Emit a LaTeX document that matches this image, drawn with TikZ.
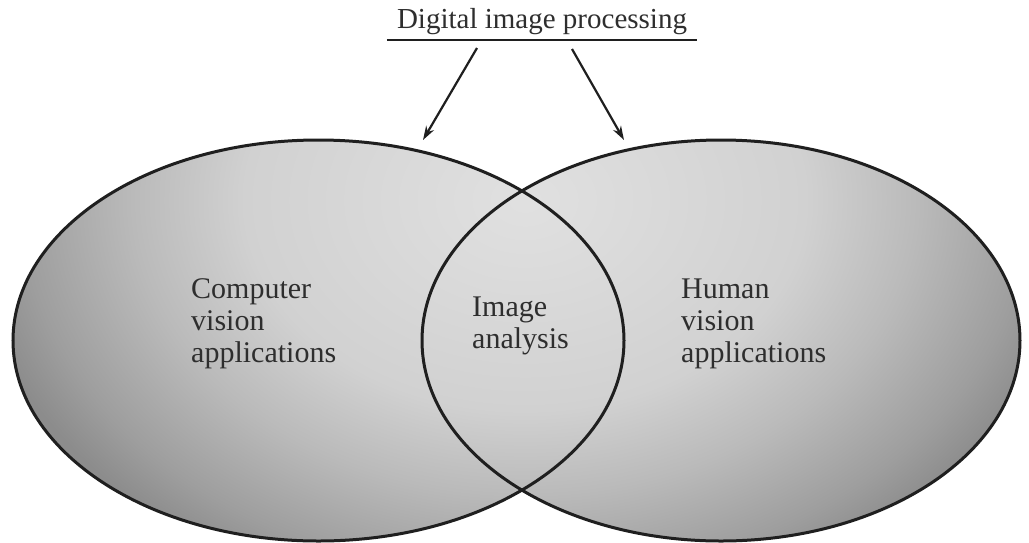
\documentclass[tikz,border=0pt]{standalone}
\usepackage{fontspec}
\setmainfont{Liberation Serif}
\usetikzlibrary{arrows.meta,shapes.geometric}
\definecolor{c0}{gray}{0.88}
\definecolor{c1}{gray}{0.82}
\definecolor{c2}{gray}{0.73}
\definecolor{c3}{gray}{0.62}
\definecolor{c4}{gray}{0.55}
\definecolor{c5}{gray}{0.50}
\definecolor{ink}{gray}{0.12}
\pgfdeclareradialshading{venn}{\pgfpoint{0bp}{0bp}}{color(0bp)=(c0); color(12.5bp)=(c1); color(17.5bp)=(c2); color(22.5bp)=(c3); color(25bp)=(c4); color(50bp)=(c5)}
\begin{document}
\begin{tikzpicture}[x=1pt,y=-1pt,
  venn/.style={draw=ink, line width=3pt, ellipse, inner sep=0pt},
  lbl/.style={align=left, inner sep=0pt, font=\fontsize{30}{32}\selectfont, text=black!82},
  arr/.style={draw=ink, line width=2.2pt, -{Stealth[length=14pt,width=9pt]}}]
\useasboundingbox[fill=white] (0,0) rectangle (1029,542);
% shading (gradient centred at (525,200), half sizes 560 x 420)
\begin{scope}
  \clip (318.5,340.5) ellipse [x radius=305.5pt, y radius=200.5pt];
  \shade[shading=venn] (-35,-220) rectangle (1085,620);
\end{scope}
\begin{scope}
  \clip (721,340.5) ellipse [x radius=299pt, y radius=200.5pt];
  \shade[shading=venn] (-35,-220) rectangle (1085,620);
\end{scope}
% outlines
\node[venn, minimum width=611pt, minimum height=401pt] (L) at (318.5,340.5) {};
\node[venn, minimum width=598pt, minimum height=401pt] (R) at (721,340.5) {};
% title
\node[anchor=base, inner xsep=10pt, inner ysep=6pt, text depth=6pt, font=\fontsize{29}{32}\selectfont, text=black!82] (T) at (542,28) {Digital image processing};
\draw[ink, line width=2.5pt] (T.south west) -- (T.south east);
% arrows
\coordinate (s1) at (477,48);
\coordinate (e1) at (423,140);
\coordinate (s2) at (572,49);
\coordinate (e2) at (624,140);
\draw[arr] (s1) -- (e1);
\draw[arr] (s2) -- (e2);
% labels (base = baseline of last line)
\node[lbl, anchor=base west] (CV) at (191,362) {Computer\\vision\\applications};
\node[lbl, anchor=base west] (IA) at (472,348) {Image\\analysis};
\node[lbl, anchor=base west] (HV) at (681,362) {Human\\vision\\applications};
\end{tikzpicture}
\end{document}
